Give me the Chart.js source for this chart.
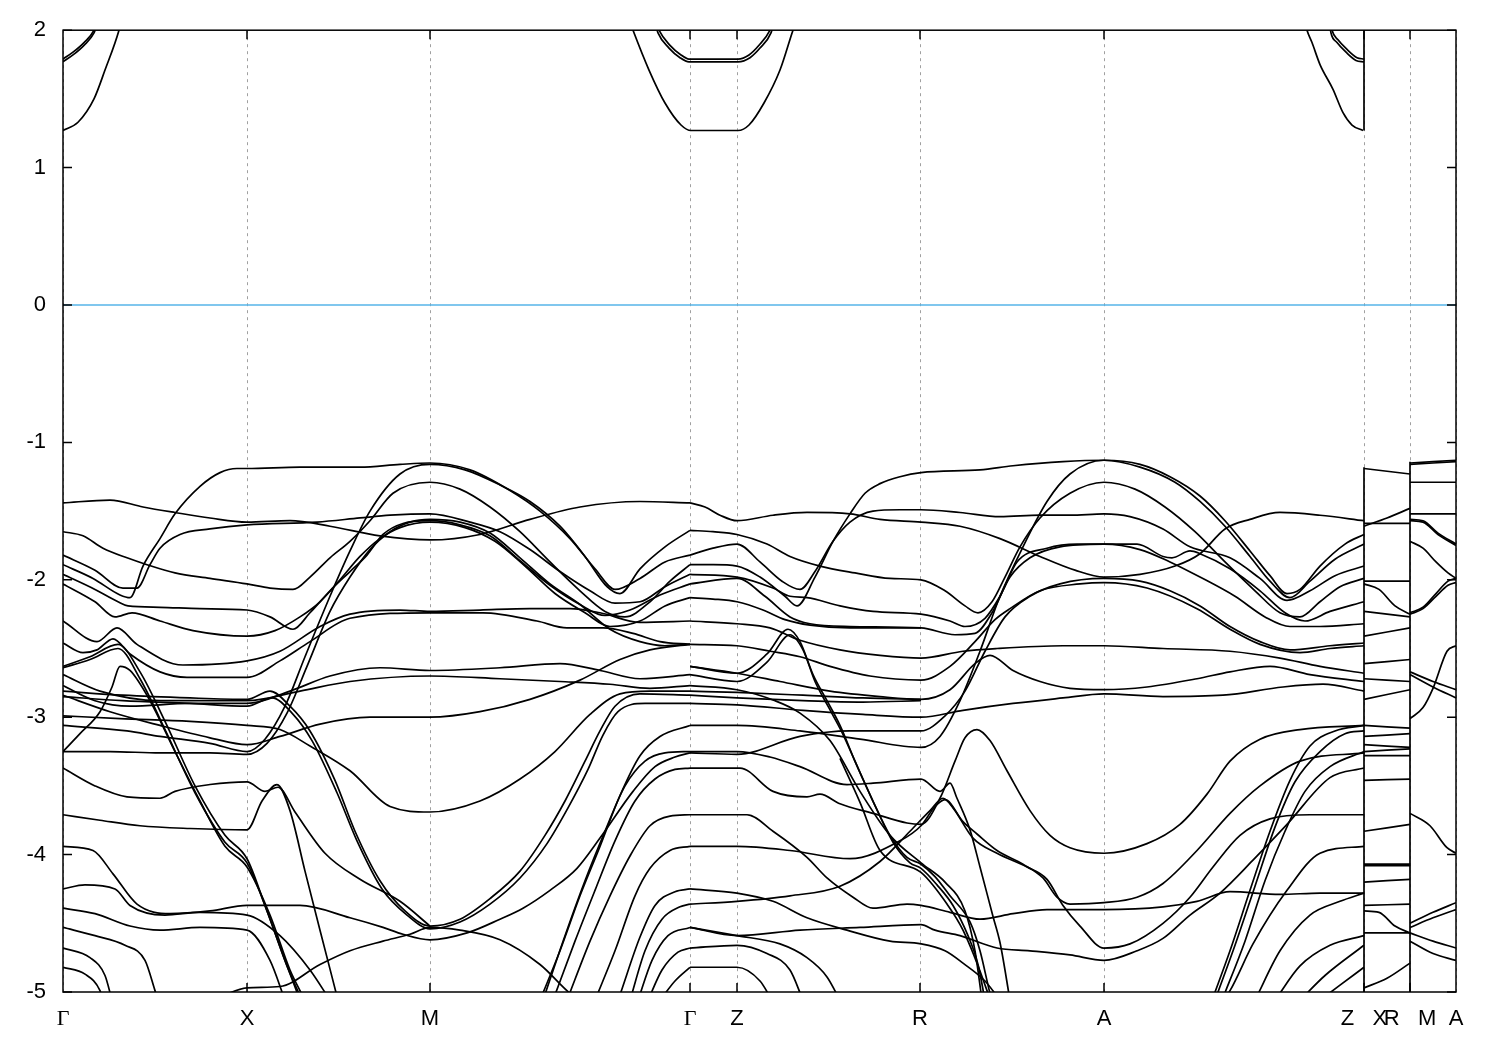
<!DOCTYPE html>
<html>
<head>
<meta charset="utf-8">
<title>Band structure</title>
<script src="https://cdn.jsdelivr.net/npm/chart.js@4.4.1/dist/chart.umd.min.js"></script>
<style>
  html, body { margin: 0; padding: 0; background: #fff; }
  #wrap { width: 1500px; height: 1050px; }
</style>
</head>
<body>
<div id="wrap"><canvas id="bands" width="1500" height="1050"></canvas></div>
<script>
// k-path (arbitrary path length units) and high-symmetry labels
const tickK = [0, 184, 367, 627, 674, 857, 1041, 1301, 1347, 1393];
const tickLabels = ['Γ', 'X', 'M', 'Γ', 'Z', 'R', 'A', 'Z   X', 'R   M', 'A'];

// conduction bands (eV)
const condBands = [
  [[0,1.27],[15,1.33],[31,1.50],[42,1.71],[56,2.0],[58,2.06]],
  [[0,1.79],[10,1.84],[21,1.91],[31,2.0],[33,2.04]],
  [[0,1.77],[10,1.82],[21,1.89],[31,1.98],[34,2.04]],
  [[566,2.08],[570,2.0],[586,1.71],[602,1.47],[618,1.31],[628,1.27],[675,1.27],[686,1.31],[701,1.47],[717,1.71],[730,2.0],[734,2.08]],
  [[594,2.04],[596,2.0],[607,1.89],[618,1.82],[626,1.79],[675,1.79],[686,1.82],[696,1.89],[707,2.0],[709,2.04]],
  [[593,2.03],[595,1.98],[606,1.87],[617,1.80],[626,1.77],[675,1.77],[687,1.80],[697,1.87],[708,1.98],[710,2.03]],
  [[1242,2.06],[1244,2.0],[1249,1.91],[1257,1.75],[1270,1.57],[1280,1.40],[1289,1.31],[1300,1.27]],
  [[1268,2.04],[1269,2.0],[1275,1.93],[1284,1.86],[1294,1.80],[1301,1.79]],
  [[1267,2.03],[1268,1.98],[1274,1.91],[1283,1.84],[1293,1.78],[1301,1.77]]
];

// valence bands, Γ-X-M-Γ
const bandsGXMG = [
  [[0,-1.44],[47,-1.42],[80,-1.47],[112,-1.51],[147,-1.55],[184,-1.58],[227,-1.57],[267,-1.61],[317,-1.68],[367,-1.71],[417,-1.67],[467,-1.56],[517,-1.47],[577,-1.43],[627,-1.44]],
  [[0,-1.89],[30,-1.99],[57,-2.11],[67,-2.13],[80,-1.90],[97,-1.70],[112,-1.52],[137,-1.32],[157,-1.22],[174,-1.19],[184,-1.19],[237,-1.18],[297,-1.18],[337,-1.16],[367,-1.15],[407,-1.20],[447,-1.35],[477,-1.50],[507,-1.70],[532,-1.92],[552,-2.07],[577,-1.99],[602,-1.87],[627,-1.82]],
  [[0,-1.65],[20,-1.68],[40,-1.77],[64,-1.84],[84,-1.89],[112,-1.95],[147,-1.99],[184,-2.03],[207,-2.06],[230,-2.07],[247,-1.98],[267,-1.84],[287,-1.72],[307,-1.57],[330,-1.37],[367,-1.29],[397,-1.34],[427,-1.47],[457,-1.65],[487,-1.87],[517,-2.08],[542,-2.23],[562,-2.27],[587,-2.16],[607,-2.01],[627,-1.89]],
  [[0,-1.82],[32,-1.93],[60,-2.06],[74,-2.06],[87,-1.89],[97,-1.77],[117,-1.67],[147,-1.63],[184,-1.60],[254,-1.58],[297,-1.55],[327,-1.53],[367,-1.52],[407,-1.58],[437,-1.65],[467,-1.78],[497,-1.94],[527,-2.08],[552,-2.17],[577,-2.16],[602,-2.05],[627,-1.96]],
  [[0,-1.96],[32,-2.07],[55,-2.16],[65,-2.19],[97,-2.20],[137,-2.21],[184,-2.22],[207,-2.27],[230,-2.36],[247,-2.24],[267,-2.08],[287,-1.94],[304,-1.82],[320,-1.67],[340,-1.59],[367,-1.57],[397,-1.60],[427,-1.68],[457,-1.86],[487,-2.04],[517,-2.18],[542,-2.26],[567,-2.22],[597,-2.11],[627,-2.03]],
  [[0,-2.03],[32,-2.16],[52,-2.27],[69,-2.24],[97,-2.30],[130,-2.37],[184,-2.41],[212,-2.37],[237,-2.27],[257,-2.16],[277,-2.00],[297,-1.83],[317,-1.70],[337,-1.62],[367,-1.58],[402,-1.62],[432,-1.72],[462,-1.90],[492,-2.10],[522,-2.24],[547,-2.34],[577,-2.30],[602,-2.19],[627,-2.13]],
  [[0,-3.06],[64,-3.10],[97,-3.14],[147,-3.19],[184,-3.25],[202,-3.16],[222,-2.92],[242,-2.56],[267,-2.12],[287,-1.79],[307,-1.50],[337,-1.23],[367,-1.16],[402,-1.20],[437,-1.31],[467,-1.43],[497,-1.61],[522,-1.83],[544,-2.05],[557,-2.10],[577,-1.92],[602,-1.76],[627,-1.64]],
  [[0,-3.25],[47,-3.25],[97,-3.26],[147,-3.26],[184,-3.27],[204,-3.19],[224,-2.97],[244,-2.63],[267,-2.23],[287,-1.98],[307,-1.78],[327,-1.65],[347,-1.58],[367,-1.56],[397,-1.58],[427,-1.66],[457,-1.84],[487,-2.03],[517,-2.18],[547,-2.36],[577,-2.45],[602,-2.48],[627,-2.47]],
  [[0,-2.30],[34,-2.45],[54,-2.35],[74,-2.47],[120,-2.62],[184,-2.59],[217,-2.52],[257,-2.34],[287,-2.25],[337,-2.22],[367,-2.23],[417,-2.22],[467,-2.21],[507,-2.21],[537,-2.24],[577,-2.31],[627,-2.30]],
  [[0,-2.46],[20,-2.53],[34,-2.51],[50,-2.43],[67,-2.54],[97,-2.67],[124,-2.71],[184,-2.71],[217,-2.59],[247,-2.45],[287,-2.28],[367,-2.24],[420,-2.24],[474,-2.30],[504,-2.35],[540,-2.35],[570,-2.39],[597,-2.45],[627,-2.47]],
  [[0,-2.77],[32,-2.88],[67,-2.92],[127,-2.90],[184,-2.90],[227,-2.81],[267,-2.70],[317,-2.64],[367,-2.66],[437,-2.64],[497,-2.61],[537,-2.66],[577,-2.72],[627,-2.69]],
  [[0,-2.84],[47,-2.96],[97,-3.06],[147,-3.15],[184,-3.20],[217,-3.14],[257,-3.05],[307,-3.00],[367,-3.00],[417,-2.96],[467,-2.87],[517,-2.73],[557,-2.58],[587,-2.51],[627,-2.47]],
  [[0,-2.69],[37,-2.81],[97,-2.88],[184,-2.88],[237,-2.81],[287,-2.74],[367,-2.70],[437,-2.72],[497,-2.74],[547,-2.76],[587,-2.79],[627,-2.77]],
  [[0,-2.99],[57,-3.01],[127,-3.03],[184,-3.06],[217,-3.09],[247,-3.21],[287,-3.39],[327,-3.65],[367,-3.69],[417,-3.61],[457,-3.45],[492,-3.25],[527,-2.98],[557,-2.83],[587,-2.81],[627,-2.81]],
  [[0,-2.81],[60,-2.84],[127,-2.86],[184,-2.87],[207,-2.81],[227,-2.92],[247,-3.10],[272,-3.46],[292,-3.83],[317,-4.19],[342,-4.41],[367,-4.52],[397,-4.47],[427,-4.32],[457,-4.12],[482,-3.86],[502,-3.61],[522,-3.32],[537,-3.10],[552,-2.92],[577,-2.83],[627,-2.84]],
  [[0,-2.85],[60,-2.88],[127,-2.90],[184,-2.92],[209,-2.86],[229,-2.97],[249,-3.17],[274,-3.55],[294,-3.90],[319,-4.25],[344,-4.44],[367,-4.54],[397,-4.49],[427,-4.36],[457,-4.17],[484,-3.92],[505,-3.66],[525,-3.38],[540,-3.13],[555,-2.96],[582,-2.90],[627,-2.90]],
  [[0,-3.94],[30,-3.97],[50,-4.14],[74,-4.36],[107,-4.43],[147,-4.41],[184,-4.37],[237,-4.37],[287,-4.46],[320,-4.53],[340,-4.58],[367,-4.62],[404,-4.57],[437,-4.47],[460,-4.39],[487,-4.26],[514,-4.10],[537,-3.88],[570,-3.54],[592,-3.36],[612,-3.29],[627,-3.26]],
  [[150,-5.06],[184,-4.97],[217,-4.96],[257,-4.80],[287,-4.70],[320,-4.63],[347,-4.58],[367,-4.53],[397,-4.55],[437,-4.62],[477,-4.80],[507,-5.01],[517,-5.06]],
  [[0,-2.63],[27,-2.56],[55,-2.47],[77,-2.67],[102,-3.03],[132,-3.50],[162,-3.86],[184,-4.03],[202,-4.37],[222,-4.77],[237,-5.06]],
  [[0,-2.64],[27,-2.58],[55,-2.50],[77,-2.72],[102,-3.09],[132,-3.55],[162,-3.91],[184,-4.06],[204,-4.41],[224,-4.81],[239,-5.06]],
  [[0,-3.25],[17,-3.12],[37,-2.96],[49,-2.78],[57,-2.63],[67,-2.66],[87,-2.88],[112,-3.25],[137,-3.61],[162,-3.94],[184,-4.09],[207,-4.44],[227,-4.84],[242,-5.06]],
  [[0,-3.37],[32,-3.50],[64,-3.58],[97,-3.59],[112,-3.54],[147,-3.49],[184,-3.47],[202,-3.54],[215,-3.51],[232,-3.69],[262,-3.99],[297,-4.18],[337,-4.34],[367,-4.52]],
  [[0,-3.71],[37,-3.75],[77,-3.79],[127,-3.81],[184,-3.82],[199,-3.61],[214,-3.49],[227,-3.68],[242,-4.12],[257,-4.55],[275,-5.06]],
  [[0,-4.25],[22,-4.22],[52,-4.25],[67,-4.37],[102,-4.44],[137,-4.42],[184,-4.44],[217,-4.59],[247,-4.84],[267,-5.06]],
  [[0,-4.39],[32,-4.43],[67,-4.52],[97,-4.55],[137,-4.53],[184,-4.55],[207,-4.77],[222,-5.06]],
  [[0,-4.53],[32,-4.59],[62,-4.66],[82,-4.77],[92,-4.99],[95,-5.06]],
  [[0,-4.68],[27,-4.75],[42,-4.88],[49,-5.06]],
  [[0,-4.82],[22,-4.87],[37,-4.99],[40,-5.06]],
  [[477,-5.06],[497,-4.70],[517,-4.30],[537,-3.94],[557,-3.57],[577,-3.28],[597,-3.14],[627,-3.06]],
  [[480,-5.06],[502,-4.59],[522,-4.19],[542,-3.83],[562,-3.50],[582,-3.32],[602,-3.26],[627,-3.25]],
  [[490,-5.06],[512,-4.63],[532,-4.26],[552,-3.90],[572,-3.61],[592,-3.45],[612,-3.38],[627,-3.37]],
  [[504,-5.06],[527,-4.63],[547,-4.30],[567,-4.01],[587,-3.79],[607,-3.72],[627,-3.71]],
  [[532,-5.06],[552,-4.70],[572,-4.30],[587,-4.10],[607,-3.97],[627,-3.94]],
  [[557,-5.02],[577,-4.60],[592,-4.37],[612,-4.27],[627,-4.25]],
  [[567,-5.06],[582,-4.70],[599,-4.47],[617,-4.38],[627,-4.36]],
  [[575,-5.06],[589,-4.77],[605,-4.59],[627,-4.53]],
  [[585,-5.06],[599,-4.84],[615,-4.71],[627,-4.68]],
  [[597,-5.06],[612,-4.92],[627,-4.82]]
];

// valence bands, Γ-Z-R-A-Z
const bandsZRAZ = [
  [[627,-1.44],[642,-1.47],[657,-1.53],[674,-1.57],[710,-1.53],[744,-1.51],[787,-1.52],[817,-1.56],[858,-1.58],[897,-1.61],[937,-1.70],[977,-1.83],[1012,-1.93],[1041,-1.98],[1077,-1.96],[1112,-1.90],[1137,-1.81],[1162,-1.63],[1187,-1.56],[1217,-1.51],[1257,-1.53],[1301,-1.57]],
  [[627,-1.89],[650,-1.89],[674,-1.90],[697,-1.98],[722,-2.12],[734,-2.19],[752,-1.98],[770,-1.72],[787,-1.52],[802,-1.37],[817,-1.30],[837,-1.25],[858,-1.22],[917,-1.20],[950,-1.17],[1000,-1.14],[1041,-1.13],[1077,-1.18],[1112,-1.29],[1137,-1.43],[1162,-1.61],[1187,-1.83],[1207,-2.01],[1227,-2.13],[1247,-2.01],[1272,-1.85],[1301,-1.74]],
  [[627,-1.64],[650,-1.65],[674,-1.67],[704,-1.74],[727,-1.83],[757,-1.90],[792,-1.95],[827,-1.99],[858,-2.00],[882,-2.08],[902,-2.19],[915,-2.24],[929,-2.16],[942,-1.98],[957,-1.76],[977,-1.55],[1007,-1.37],[1041,-1.29],[1072,-1.34],[1102,-1.47],[1132,-1.65],[1162,-1.87],[1192,-2.08],[1217,-2.24],[1237,-2.27],[1257,-2.16],[1277,-2.05],[1301,-1.99]],
  [[627,-1.82],[650,-1.77],[674,-1.74],[697,-1.87],[719,-2.01],[737,-2.07],[752,-1.94],[770,-1.72],[787,-1.58],[810,-1.50],[837,-1.49],[858,-1.49],[897,-1.51],[937,-1.54],[977,-1.53],[1007,-1.53],[1041,-1.52],[1067,-1.54],[1100,-1.63],[1127,-1.76],[1167,-1.84],[1197,-1.99],[1224,-2.15],[1247,-2.08],[1272,-1.97],[1301,-1.90]],
  [[627,-1.96],[674,-1.98],[710,-2.06],[727,-2.12],[744,-2.13],[777,-2.19],[810,-2.23],[858,-2.25],[887,-2.30],[902,-2.34],[922,-2.28],[937,-2.12],[954,-1.87],[984,-1.77],[1014,-1.74],[1041,-1.74],[1074,-1.74],[1100,-1.83],[1109,-1.84],[1127,-1.79],[1137,-1.81],[1167,-1.92],[1197,-2.08],[1222,-2.24],[1242,-2.30],[1267,-2.23],[1301,-2.16]],
  [[627,-2.03],[674,-1.99],[702,-2.12],[727,-2.27],[747,-2.32],[787,-2.34],[858,-2.35],[892,-2.40],[912,-2.39],[929,-2.24],[947,-1.98],[967,-1.84],[997,-1.76],[1041,-1.74],[1077,-1.78],[1107,-1.87],[1137,-1.98],[1172,-2.12],[1202,-2.27],[1227,-2.34],[1257,-2.34],[1301,-2.32]],
  [[627,-2.13],[650,-2.14],[674,-2.16],[700,-2.22],[722,-2.29],[747,-2.33],[787,-2.35],[858,-2.35]],
  [[627,-3.06],[674,-3.06],[737,-3.10],[797,-3.16],[858,-3.22],[877,-3.14],[897,-2.88],[917,-2.52],[937,-2.12],[960,-1.76],[984,-1.43],[1007,-1.23],[1041,-1.13],[1077,-1.16],[1107,-1.25],[1137,-1.39],[1162,-1.57],[1187,-1.79],[1207,-1.97],[1224,-2.10],[1237,-2.07],[1257,-1.90],[1282,-1.74],[1301,-1.67]],
  [[627,-3.26],[674,-3.27],[737,-3.14],[787,-3.10],[858,-3.10],[882,-2.99],[902,-2.81],[922,-2.52],[942,-2.27],[967,-2.12],[997,-2.03],[1041,-1.99],[1077,-2.01],[1107,-2.08],[1137,-2.19],[1167,-2.34],[1197,-2.45],[1227,-2.51],[1267,-2.48],[1301,-2.46]],
  [[627,-2.47],[674,-2.48],[707,-2.52],[737,-2.56],[767,-2.63],[807,-2.70],[858,-2.73],[887,-2.63],[912,-2.45],[932,-2.29],[947,-2.21],[977,-2.08],[1017,-2.03],[1041,-2.02],[1084,-2.06],[1134,-2.21],[1167,-2.36],[1197,-2.47],[1237,-2.53],[1267,-2.50],[1301,-2.48]],
  [[627,-2.30],[674,-2.32],[707,-2.35],[737,-2.44],[777,-2.51],[817,-2.55],[858,-2.57],[900,-2.52],[934,-2.50],[1000,-2.48],[1041,-2.48],[1100,-2.50],[1167,-2.52],[1217,-2.57],[1257,-2.63],[1301,-2.68]],
  [[627,-2.63],[674,-2.68],[717,-2.74],[767,-2.81],[817,-2.85],[858,-2.87],[887,-2.80],[912,-2.61],[927,-2.55],[950,-2.66],[977,-2.74],[1007,-2.79],[1041,-2.80],[1084,-2.78],[1134,-2.72],[1167,-2.67],[1207,-2.63],[1247,-2.69],[1301,-2.74]],
  [[627,-2.81],[674,-2.82],[740,-2.84],[800,-2.86],[858,-2.87]],
  [[627,-2.84],[674,-2.86],[740,-2.88],[800,-2.89],[858,-2.88]],
  [[627,-2.90],[674,-2.91],[740,-2.95],[800,-2.98],[858,-3.00],[900,-2.95],[950,-2.90],[1000,-2.86],[1041,-2.83],[1100,-2.85],[1160,-2.84],[1220,-2.78],[1260,-2.76],[1301,-2.81]],
  [[627,-3.37],[677,-3.37],[710,-3.54],[744,-3.58],[757,-3.56],[777,-3.63],[810,-3.70],[844,-3.77],[858,-3.78],[877,-3.59],[892,-3.32],[902,-3.15],[914,-3.09],[927,-3.17],[944,-3.39],[967,-3.68],[987,-3.86],[1007,-3.95],[1041,-3.99],[1084,-3.92],[1117,-3.78],[1144,-3.56],[1167,-3.32],[1197,-3.16],[1237,-3.09],[1301,-3.06]],
  [[627,-3.25],[674,-3.25],[707,-3.29],[737,-3.36],[784,-3.49],[810,-3.48],[858,-3.45],[877,-3.54],[887,-3.48],[894,-3.59],[907,-3.82],[917,-4.09],[930,-4.45],[937,-4.64],[947,-5.06]],
  [[627,-2.63],[674,-2.68],[704,-2.54],[725,-2.36],[737,-2.45],[750,-2.69],[764,-2.88],[777,-3.06],[792,-3.32],[810,-3.61],[827,-3.86],[844,-4.02],[858,-4.07],[872,-4.16],[887,-4.30],[907,-4.49],[917,-4.70],[927,-5.01],[929,-5.06]],
  [[627,-2.69],[674,-2.74],[704,-2.60],[727,-2.40],[740,-2.51],[752,-2.74],[765,-2.92],[779,-3.11],[795,-3.37],[813,-3.66],[830,-3.91],[847,-4.06],[858,-4.10],[874,-4.22],[890,-4.37],[905,-4.59],[915,-4.80],[922,-5.06]],
  [[627,-2.77],[674,-2.80],[712,-2.88],[737,-2.97],[767,-3.17],[797,-3.54],[827,-3.86],[858,-4.06],[882,-4.20],[902,-4.41],[912,-4.70],[919,-5.06]],
  [[777,-3.30],[797,-3.62],[817,-3.97],[858,-4.13],[884,-4.36],[900,-4.55],[924,-4.99],[927,-5.06]],
  [[627,-3.71],[684,-3.71],[710,-3.83],[744,-4.02],[764,-4.17],[790,-4.31],[810,-4.39],[844,-4.36],[858,-4.37],[887,-4.42],[917,-4.47],[950,-4.43],[984,-4.40],[1041,-4.40],[1100,-4.38],[1134,-4.34],[1167,-4.27],[1217,-4.29],[1257,-4.28],[1301,-4.28]],
  [[627,-3.94],[674,-3.94],[727,-3.97],[787,-4.03],[837,-3.90],[858,-3.79],[872,-3.65],[882,-3.60],[900,-3.76],[914,-3.85],[934,-3.97],[960,-4.07],[980,-4.17],[994,-4.31],[1007,-4.36],[1041,-4.35],[1074,-4.31],[1100,-4.21],[1134,-3.97],[1167,-3.70],[1197,-3.50],[1237,-3.32],[1301,-3.26]],
  [[627,-4.36],[674,-4.34],[727,-4.30],[777,-4.23],[817,-4.05],[847,-3.83],[867,-3.68],[880,-3.59],[890,-3.66],[910,-3.88],[934,-3.99],[964,-4.09],[984,-4.18],[1000,-4.37],[1017,-4.52],[1041,-4.68],[1067,-4.65],[1100,-4.50],[1127,-4.31],[1150,-4.09],[1177,-3.86],[1207,-3.74],[1247,-3.71],[1301,-3.71]],
  [[627,-4.53],[674,-4.59],[737,-4.55],[797,-4.53],[858,-4.51],[872,-4.55],[897,-4.59],[934,-4.68],[967,-4.70],[1007,-4.73],[1041,-4.77],[1074,-4.70],[1100,-4.61],[1127,-4.44],[1157,-4.28],[1190,-4.04],[1224,-3.78],[1267,-3.44],[1301,-3.37]],
  [[627,-4.25],[674,-4.28],[710,-4.34],[744,-4.46],[784,-4.55],[827,-4.63],[858,-4.65],[882,-4.70],[900,-4.79],[922,-4.92],[937,-5.06]],
  [[627,-4.53],[674,-4.59],[717,-4.65],[744,-4.75],[764,-4.89],[777,-5.06]],
  [[627,-4.68],[674,-4.66],[704,-4.72],[727,-4.84],[740,-5.06]],
  [[627,-4.82],[674,-4.82],[697,-4.92],[709,-5.06]],
  [[1149,-5.06],[1167,-4.70],[1187,-4.26],[1207,-3.83],[1227,-3.46],[1247,-3.21],[1272,-3.10],[1301,-3.06]],
  [[1152,-5.06],[1172,-4.66],[1192,-4.23],[1212,-3.80],[1232,-3.47],[1257,-3.25],[1282,-3.12],[1301,-3.10]],
  [[1159,-5.06],[1182,-4.63],[1202,-4.19],[1222,-3.83],[1242,-3.54],[1267,-3.36],[1301,-3.25]],
  [[1160,-5.06],[1167,-4.99],[1190,-4.65],[1224,-4.26],[1257,-3.99],[1301,-3.94]],
  [[1192,-5.06],[1217,-4.70],[1247,-4.44],[1277,-4.34],[1301,-4.28]],
  [[1212,-5.06],[1237,-4.81],[1267,-4.66],[1301,-4.59]],
  [[1237,-5.06],[1262,-4.88],[1301,-4.66]],
  [[1257,-5.06],[1277,-4.95],[1301,-4.82]]
];

// X-R panel
const bandsXR = [
  [[1301,-1.19],[1347,-1.23]],
  [[1301,-1.59],[1347,-1.59]],
  [[1301,-1.61],[1324,-1.55],[1347,-1.48]],
  [[1301,-2.01],[1347,-2.01]],
  [[1301,-2.03],[1316,-2.07],[1332,-2.19],[1347,-2.25]],
  [[1301,-2.23],[1347,-2.27]],
  [[1301,-2.41],[1347,-2.35]],
  [[1301,-2.61],[1347,-2.58]],
  [[1301,-2.72],[1347,-2.74]],
  [[1301,-2.87],[1347,-2.80]],
  [[1301,-3.06],[1347,-3.08]],
  [[1301,-3.14],[1347,-3.12]],
  [[1301,-3.20],[1347,-3.22]],
  [[1301,-3.25],[1347,-3.23]],
  [[1301,-3.28],[1347,-3.28]],
  [[1301,-3.46],[1347,-3.45]],
  [[1301,-3.83],[1347,-3.78]],
  [[1301,-4.07],[1347,-4.07]],
  [[1301,-4.08],[1347,-4.08]],
  [[1301,-4.20],[1347,-4.18]],
  [[1301,-4.37],[1347,-4.36]],
  [[1301,-4.41],[1316,-4.42],[1332,-4.52],[1347,-4.57]],
  [[1301,-4.57],[1347,-4.57]],
  [[1301,-4.97],[1324,-4.90],[1347,-4.79]]
];

// M-A panel
const bandsMA = [
  [[1347,-1.15],[1393,-1.13]],
  [[1347,-1.16],[1393,-1.14]],
  [[1347,-1.29],[1393,-1.29]],
  [[1347,-1.52],[1393,-1.52]],
  [[1347,-1.56],[1360,-1.57],[1375,-1.66],[1393,-1.74]],
  [[1347,-1.57],[1360,-1.58],[1375,-1.67],[1393,-1.75]],
  [[1347,-1.72],[1360,-1.77],[1373,-1.87],[1385,-1.95],[1393,-1.99]],
  [[1347,-2.24],[1360,-2.20],[1373,-2.10],[1385,-2.01],[1393,-1.99]],
  [[1347,-2.25],[1360,-2.21],[1373,-2.12],[1385,-2.04],[1393,-2.02]],
  [[1347,-2.67],[1370,-2.74],[1393,-2.80]],
  [[1347,-2.69],[1370,-2.78],[1393,-2.86]],
  [[1347,-3.01],[1360,-2.93],[1370,-2.79],[1384,-2.52],[1393,-2.48]],
  [[1347,-3.70],[1367,-3.79],[1384,-3.95],[1393,-3.99]],
  [[1347,-4.50],[1370,-4.42],[1393,-4.35]],
  [[1347,-4.53],[1370,-4.46],[1393,-4.40]],
  [[1347,-4.57],[1370,-4.63],[1393,-4.68]],
  [[1347,-4.63],[1370,-4.72],[1393,-4.77]]
];

// band connections drawn at the path breaks (Z|X and R|M)
const jumpLines = [
  [[1301,-1.18],[1301,-5.2]],
  [[1347,-1.14],[1347,-5.2]],
  [[1301,1.27],[1301,2.2]]
];

const fermiLevel = [[0,0],[1393,0]];

function bandSet(points) {
  return {
    data: points,
    borderColor: '#000',
    borderWidth: 1.7,
    pointRadius: 0,
    fill: false,
    cubicInterpolationMode: 'monotone'
  };
}

const datasets = [];
[condBands, bandsGXMG, bandsZRAZ, bandsXR, bandsMA].forEach(group => {
  group.forEach(b => datasets.push(bandSet(b)));
});
jumpLines.forEach(j => datasets.push({
  data: j, borderColor: '#000', borderWidth: 1.7, pointRadius: 0, tension: 0
}));
datasets.push({
  data: fermiLevel, borderColor: 'rgb(86,180,233)', borderWidth: 1.5, pointRadius: 0, tension: 0
});

const framePlugin = {
  id: 'frame',
  afterDatasetsDraw(chart) {
    const { ctx, chartArea: a, scales } = chart;
    ctx.save();
    ctx.strokeStyle = '#000';
    ctx.lineWidth = 1.5;
    ctx.strokeRect(a.left, a.top, a.right - a.left, a.bottom - a.top);
    ctx.beginPath();
    scales.y.ticks.forEach(t => {
      const y = scales.y.getPixelForValue(t.value);
      ctx.moveTo(a.left, y); ctx.lineTo(a.left + 9, y);
      ctx.moveTo(a.right, y); ctx.lineTo(a.right - 9, y);
    });
    tickK.slice(1, -1).forEach(k => {
      const x = scales.x.getPixelForValue(k);
      ctx.moveTo(x, a.bottom); ctx.lineTo(x, a.bottom - 9);
      ctx.moveTo(x, a.top); ctx.lineTo(x, a.top + 9);
    });
    ctx.stroke();
    ctx.restore();
  }
};

new Chart(document.getElementById('bands'), {
  type: 'line',
  data: { datasets },
  options: {
    responsive: false,
    animation: false,
    layout: { padding: { top: 28, right: 44, left: 0, bottom: 0 } },
    plugins: { legend: { display: false }, tooltip: { enabled: false } },
    scales: {
      x: {
        type: 'linear',
        min: 0,
        max: 1393,
        afterBuildTicks: axis => { axis.ticks = tickK.map(v => ({ value: v })); },
        afterFit: s => { s.height = 58; },
        grid: { color: '#a0a0a0', lineWidth: 1, drawTicks: false },
        border: { display: false, dash: [3, 4] },
        ticks: {
          autoSkip: false,
          maxRotation: 0,
          padding: 14,
          color: '#000',
          font: ctx => ({
            family: tickLabels[ctx.index] === 'Γ' ? 'Liberation Serif' : 'Liberation Sans',
            size: 22
          }),
          callback: (v, i) => tickLabels[i]
        }
      },
      y: {
        min: -5,
        max: 2,
        afterFit: s => { s.width = 63; },
        grid: { display: false, drawTicks: false },
        border: { display: false },
        ticks: {
          stepSize: 1,
          padding: 17,
          color: '#000',
          font: { family: 'Liberation Sans', size: 22 },
          callback: v => String(v)
        }
      }
    }
  },
  plugins: [framePlugin]
});
</script>
</body>
</html>
